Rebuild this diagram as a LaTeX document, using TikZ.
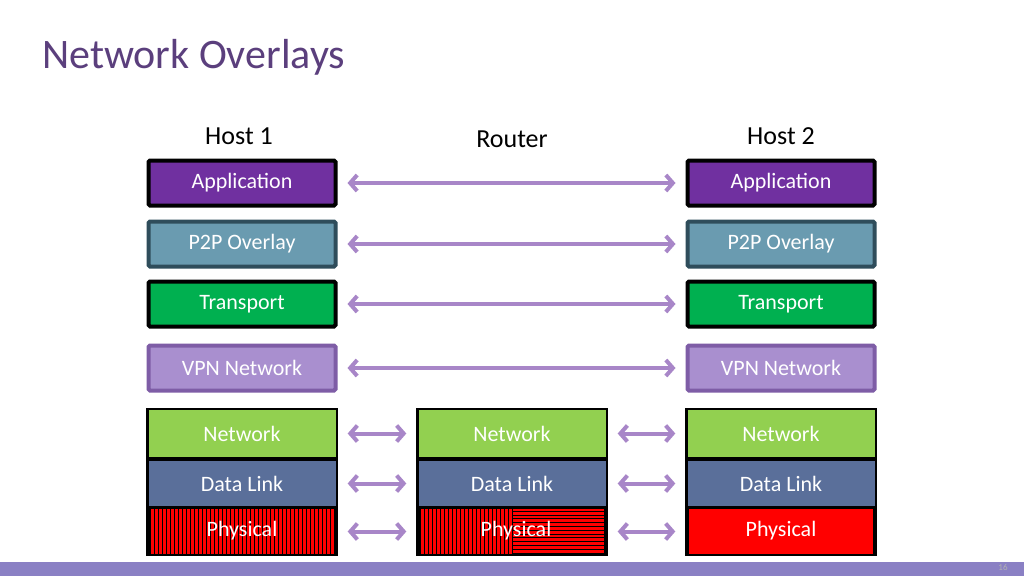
\documentclass[tikz,border=0pt]{standalone}
\usepackage{fontspec}
\setmainfont{Carlito}
\usetikzlibrary{arrows.meta}
\definecolor{app}{HTML}{7030A0}
\definecolor{ptp}{HTML}{6A9BB0}
\definecolor{ptpb}{HTML}{2F4D5B}
\definecolor{trn}{HTML}{00B050}
\definecolor{vpn}{HTML}{A98FCF}
\definecolor{vpnb}{HTML}{7E5DA6}
\definecolor{net}{HTML}{92D050}
\definecolor{dl}{HTML}{5A6F9A}
\definecolor{arr}{HTML}{A886C8}
\definecolor{ttl}{HTML}{5B3F7D}
\definecolor{bar}{HTML}{8A80C4}
\begin{document}
\begin{tikzpicture}[x=1pt,y=-1pt,
  lay/.style={draw=black,line width=4pt,text=white,font=\fontsize{22}{22}\selectfont,inner sep=0pt,minimum width=187pt,minimum height=45pt,rounded corners=1.5pt},
  sub/.style={draw=none,text=white,font=\fontsize{22}{22}\selectfont,inner sep=0pt,minimum width=187pt,minimum height=44pt},
  lbl/.style={font=\fontsize{26}{26}\selectfont,text=black},
  dar/.style={arr,line width=4pt,{Straight Barb[length=7pt,width=16pt]}-{Straight Barb[length=7pt,width=16pt]}}]
\useasboundingbox (0,0) rectangle (1024,576);
\fill[white] (0,0) rectangle (1024,576);
\fill[bar] (0,562) rectangle (1024,576);
\node[font=\fontsize{9}{9}\selectfont,text=gray!60] (pg) at (1003,567) {16};
\node[anchor=base west,font=\fontsize{42}{42}\selectfont,text=ttl,inner sep=0pt] (title) at (42,68) {Network Overlays};
\node[lbl] (h1) at (239,136) {Host 1};
\node[lbl] (r) at (512,139) {Router};
\node[lbl] (h2) at (781,136) {Host 2};
% upper layers
\foreach \x/\s in {242/a,781/b}{
  \node[lay,fill=app] (app\s) at (\x,183) {Application};
  \node[lay,fill=ptp,draw=ptpb] (ptp\s) at (\x,244) {P2P Overlay};
  \node[lay,fill=trn] (trn\s) at (\x,304) {Transport};
  \node[lay,fill=vpn,draw=vpnb] (vpn\s) at (\x,368) {VPN Network};
}
\foreach \n in {app,ptp,trn,vpn}{\draw[dar] ([xshift=10pt]\n a.east) -- ([xshift=-10pt]\n b.west);}
% lower stacks
\foreach \x/\s in {242/a,512/r,781/b}{
  \fill[black] (\x-96,408) rectangle (\x+96,556);
  \fill[red] (\x-92,509) rectangle (\x+92,554);
  \node[sub,fill=net,minimum height=47pt] (net\s) at (\x,433.5) {};
  \node[sub,fill=dl,minimum height=45pt] (dl\s) at (\x,483.5) {};
  \node[sub,minimum height=45pt] (ph\s) at (\x,531.5) {};
}
\foreach \i in {0,...,45}{
  \draw[black,line width=0.5pt] (150+4*\i,509) -- (150+4*\i,554);
}
\foreach \i in {0,...,23}{
  \draw[black,line width=0.5pt] (420+4*\i,509) -- (420+4*\i,554);
}
\foreach \i in {0,...,11}{
  \draw[black,line width=0.5pt] (512,511+3.8*\i) -- (604,511+3.8*\i);
}
\foreach \s in {a,r,b}{
  \node[sub,text=white] at (net\s) {Network};
  \node[sub,text=white] at (dl\s) {Data Link};
}
\node[text=white,font=\fontsize{22}{22}\selectfont] at (242,531) {Physical};
\node[text=white,font=\fontsize{22}{22}\selectfont] at (516,531) {Physical};
\node[text=white,font=\fontsize{22}{22}\selectfont] at (781,531) {Physical};
\foreach \n in {net,dl,ph}{
  \draw[dar] ([xshift=12pt]\n a.east) -- ([xshift=-12pt]\n r.west);
  \draw[dar] ([xshift=12pt]\n r.east) -- ([xshift=-12pt]\n b.west);
}
\end{tikzpicture}
\end{document}
